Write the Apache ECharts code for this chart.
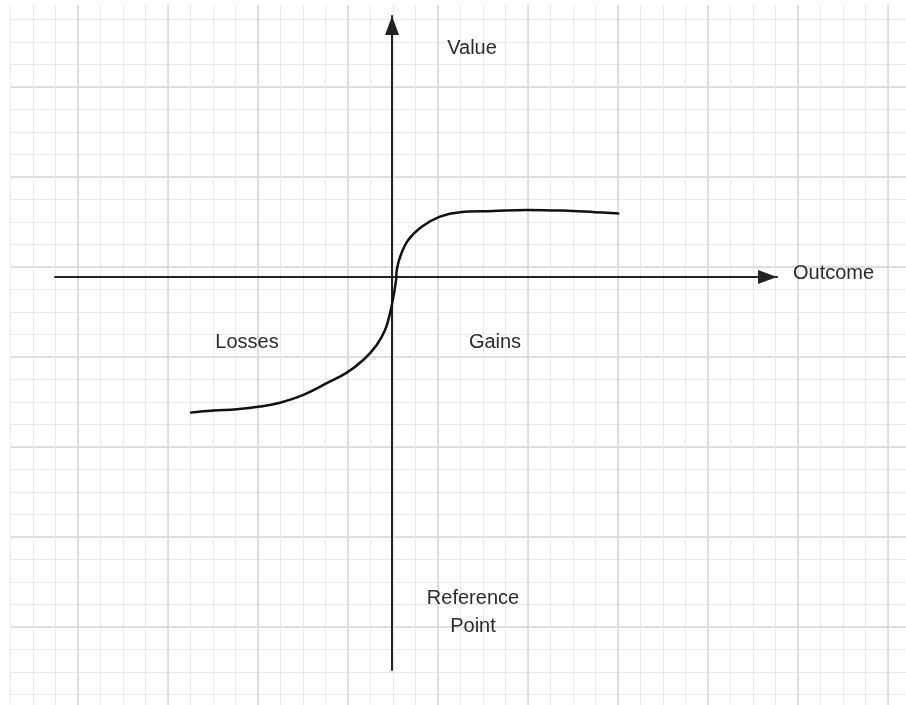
<!DOCTYPE html>
<html>
<head>
<meta charset="utf-8">
<script src="https://cdn.jsdelivr.net/npm/echarts@6/dist/echarts.min.js"></script>
<style>
    html, body { margin: 0; padding: 0; background: #ffffff; }
    #chart { width: 906px; height: 705px; }
</style>
</head>
<body>
<div id="chart"></div>
<script>
    // value function sketch, units = one small grid cell
    var outcome = [-8.98, -7.94, -6.90, -5.87, -4.98, -3.94, -2.90, -2.01, -1.28, -0.68, -0.31, -0.09, 0.06, 0.18,
        0.21, 0.36, 0.72, 1.32, 2.13, 3.02, 4.49, 5.99, 7.60, 9.01, 10.10];
    var value = [-6.03, -5.94, -5.88, -5.76, -5.59, -5.24, -4.72, -4.25, -3.69, -3.02, -2.36, -1.61, -0.88, -0.13,
        0.31, 0.90, 1.64, 2.23, 2.68, 2.88, 2.93, 2.98, 2.95, 2.88, 2.82];
    var outcomeRange = [-14.98, 17.11];
    var valueRange = [-17.47, 11.6];
    var axisTitles = ['Outcome', 'Value'];
    var regionLabels = ['Losses', 'Gains', 'Reference\nPoint'];

    var points = outcome.map(function (x, i) { return [x, value[i]]; });

    var txt = '#2b2b2b';
    var font = '"Liberation Sans", Arial, sans-serif';

    function label(text, x, y, align) {
        return {
            type: 'text', x: x, y: y, z: 10,
            style: {
                text: text, fill: txt, font: '20px ' + font,
                textAlign: align || 'center', textVerticalAlign: 'middle', lineHeight: 28
            }
        };
    }

    // hidden axis that only draws paper lines
    function paperAxis(max, step, color, width) {
        return {
            gridIndex: 0, type: 'value', min: 0, max: max, interval: step, z: 0,
            axisLine: { show: false }, axisTick: { show: false }, axisLabel: { show: false },
            splitLine: { show: true, lineStyle: { color: color, width: width } }
        };
    }

    function plotAxis(range) {
        return {
            gridIndex: 1, type: 'value', min: range[0], max: range[1], z: 4,
            axisTick: { show: false }, axisLabel: { show: false }, splitLine: { show: false },
            axisLine: {
                show: true, onZero: true,
                symbol: ['none', 'triangle'], symbolSize: [14, 19], symbolOffset: [0, -9.5],
                lineStyle: { color: '#222222', width: 2 }
            }
        };
    }

    var chart = echarts.init(document.getElementById('chart'), null, { renderer: 'canvas' });
    var option = {
        backgroundColor: '#ffffff',
        animation: false,
        grid: [
            // paper grid
            { left: -12, top: -3, width: 990, height: 720, outerBoundsMode: 'none', containLabel: false },
            // plot axes
            { left: 55, top: 16, width: 722, height: 654, outerBoundsMode: 'none', containLabel: false }
        ],
        xAxis: [
            paperAxis(44, 1, '#e9e9e9', 1),
            plotAxis(outcomeRange),
            paperAxis(44, 4, '#d6d6d6', 1.5)
        ],
        yAxis: [
            paperAxis(32, 1, '#e9e9e9', 1),
            plotAxis(valueRange),
            paperAxis(32, 4, '#d6d6d6', 1.5)
        ],
        series: [
            {
                type: 'line', xAxisIndex: 1, yAxisIndex: 1,
                data: points, smooth: 0.4,
                showSymbol: false, symbol: 'none',
                lineStyle: { color: '#111111', width: 2.5 },
                z: 5
            }
        ],
        graphic: [
            { type: 'rect', shape: { x: 0, y: 0, width: 10, height: 705 }, style: { fill: '#ffffff' }, z: 2 },
            { type: 'rect', shape: { x: 0, y: 0, width: 906, height: 5 }, style: { fill: '#ffffff' }, z: 2 },
            label(axisTitles[1], 472, 48),
            label(axisTitles[0], 793, 273, 'left'),
            label(regionLabels[0], 247, 342),
            label(regionLabels[1], 495, 342),
            label(regionLabels[2], 473, 612)
        ]
    };
    chart.setOption(option);
</script>
</body>
</html>
